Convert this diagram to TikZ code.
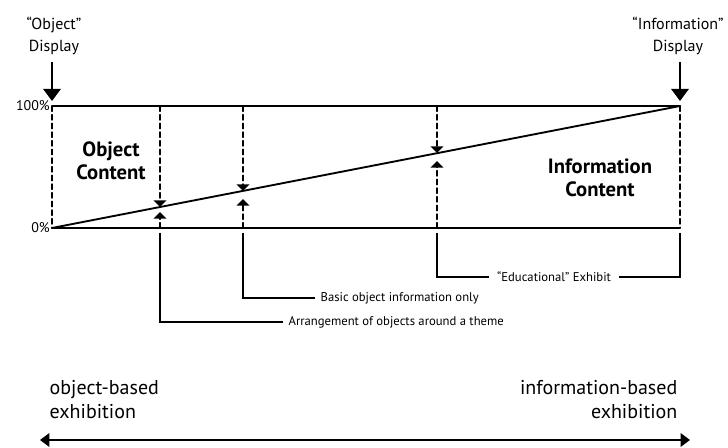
\documentclass[tikz,border=0pt]{standalone}
\usepackage{fontspec}
\setmainfont{PT Sans}
\usepackage{tkz-euclide}
\usetikzlibrary{arrows.meta}

\tikzset{
  mainline/.style={line width=1.4pt},
  dashline/.style={line width=1.1pt,dash pattern=on 4pt off 2.5pt},
  bigtip/.style={line width=1.4pt,-{Triangle[length=9pt,width=13pt]}},
  marktip/.style={dashline,-{Triangle[length=5pt,width=9.5pt]}},
  leadtext/.style={font=\fontsize{9.5}{11}\selectfont,inner xsep=4pt},
  pcttext/.style={font=\fontsize{10.5}{12}\selectfont,inner xsep=1.5pt},
  headtext/.style={font=\fontsize{12}{16.5}\selectfont,align=center},
  boxtext/.style={font=\fontsize{15.5}{17.5}\selectfont\bfseries,align=center},
  endtext/.style={font=\fontsize{15}{18}\selectfont}
}

\begin{document}
\begin{tikzpicture}[x=0.75pt,y=-0.75pt,line join=miter]
  \useasboundingbox (0,0) rectangle (728,448);

  \tkzDefPoints{52/228/O, 52/106/P, 680/106/Q, 680/228/R}
  \tkzDefPoints{52/101/Pt, 680/101/Qt}
  \tkzDefPoints{160/106/Ta, 160/207/Da, 160/212/Ua, 160/228/Ba, 160/233/La}
  \tkzDefPoints{243/106/Tb, 243/191/Db, 243/199/Ub, 243/228/Bb, 243/233/Lb}
  \tkzDefPoints{437/106/Tc, 437/153/Dc, 437/161/Uc, 437/228/Bc, 437/233/Lc}
  \tkzDefPoints{680/233/Lr, 40/440/E, 690/440/F}

  \tkzDrawSegments[mainline](P,Q O,R O,Q)
  \tkzDrawSegments[dashline](P,O Q,R)
  \tkzDrawSegments[marktip](Ta,Da Ba,Ua Tb,Db Bb,Ub Tc,Dc Bc,Uc)

  \node[anchor=east,pcttext] (hund) at (P) {100\%};
  \node[anchor=east,pcttext] (zero) at (O) {0\%};

  \node[headtext] (objdisp) at (54,36) {“Object”\\Display};
  \node[headtext] (infdisp) at (678,36) {“Information”\\Display};
  \draw[bigtip,shorten <=2pt] (objdisp.south -| Pt) -- (Pt);
  \draw[bigtip,shorten <=2pt] (infdisp.south -| Qt) -- (Qt);

  \node[boxtext] (objc) at (111,161) {Object\\Content};
  \node[boxtext] (infc) at (600,178) {Information\\Content};

  \node[leadtext,anchor=west] (arr) at (283,322) {Arrangement of objects around a theme};
  \node[leadtext,anchor=west] (bas) at (315,298) {Basic object information only};
  \node[leadtext,inner xsep=6pt] (edu) at (554,277) {“Educational” Exhibit};
  \draw[mainline] (La) |- (arr.west);
  \draw[mainline] (Lb) |- (bas.west);
  \draw[mainline] (Lc) |- (edu.west);
  \draw[mainline] (edu.east) -| (Lr);

  \node[endtext,anchor=west,align=left] (obx) at (45,400) {object-based\\exhibition};
  \node[endtext,anchor=east,align=right] (infx) at (682,400) {information-based\\exhibition};
  \draw[line width=2.2pt,{Triangle[length=7pt,width=10pt]}-{Triangle[length=7pt,width=10pt]}] (E) -- (F);

\end{tikzpicture}
\end{document}
